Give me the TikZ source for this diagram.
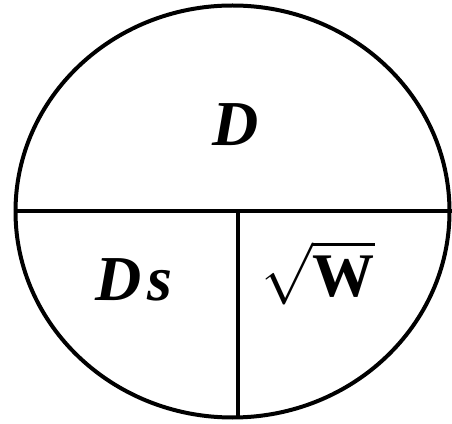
\documentclass[tikz,border=0pt]{standalone}
\usepackage{unicode-math}
\setmainfont{Liberation Serif}
\setmathfont{Latin Modern Math}
\usepackage{tikz}
\usetikzlibrary{shapes.geometric}

\begin{document}
\begin{tikzpicture}[x=1pt,y=1pt,line width=4pt,
  lbl/.style={font=\fontsize{64}{64}\selectfont\bfseries\itshape}]
\useasboundingbox (0,0) rectangle (452,423);
\node[draw,ellipse,inner sep=0pt,minimum width=434,minimum height=412] (ring) at (232.5,211.5) {};
\coordinate (lft) at (ring.west);
\coordinate (rgt) at (ring.east);
\coordinate (mid) at (237.5,212.5);
\coordinate (bot) at (237.5,5.7);
\draw (lft) -- (rgt);
\draw (mid) -- (bot);
\node[lbl] (top) at (236,298) {D};
\node[lbl] (ds) at (134,143) {D\kern6pt s};
\node[font=\fontsize{62}{62}\selectfont] (sw) at (318,150) {$\sqrt{\textbf{W}}$};
\end{tikzpicture}
\end{document}
